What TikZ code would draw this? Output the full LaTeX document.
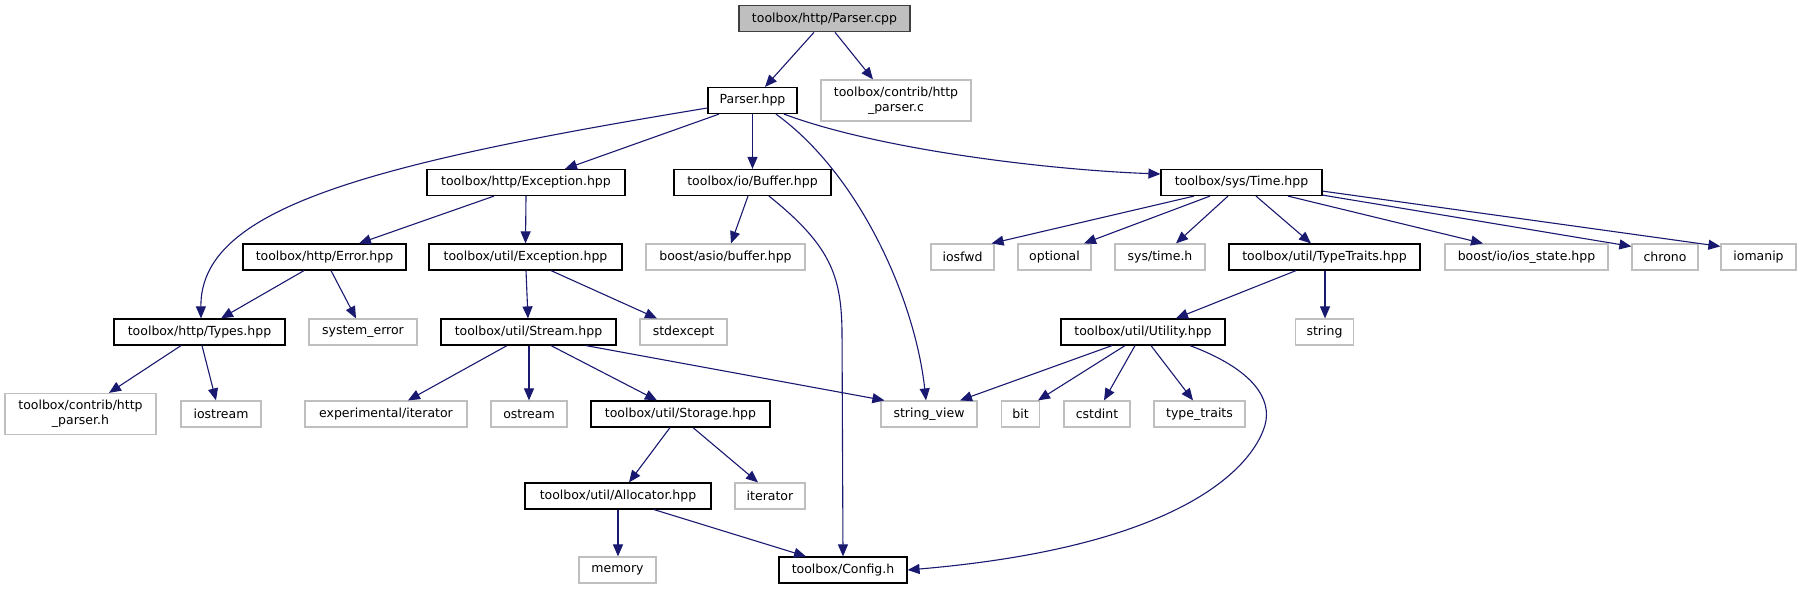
\documentclass[tikz,border=0pt]{standalone}
\usepackage{fontspec}
\setmainfont{DejaVu Sans}
\usetikzlibrary{arrows.meta}
\definecolor{mblue}{HTML}{191970}
\definecolor{gline}{HTML}{BFBFBF}
\definecolor{rootfill}{HTML}{BFBFBF}
\definecolor{rootline}{HTML}{404040}
\begin{document}
\begin{tikzpicture}[x=1pt,y=-1pt,
  box/.style={draw=black, line width=1.2pt, inner sep=0pt, minimum height=26pt, align=center, font=\fontsize{12.5}{15}\selectfont},
  ext/.style={box, draw=gline},
  root/.style={box, draw=rootline, fill=rootfill},
  two/.style={minimum height=41pt},
  e/.style={draw=mblue, line width=1.1pt, -{Triangle[length=12pt,width=10pt]}, mblue}]
\useasboundingbox (0,0) rectangle (1811,589);
% row 1
\node[root, minimum width=171pt] (pcpp) at (824.5,18.7) {toolbox/http/Parser.cpp};
% row 2
\node[box, minimum width=89pt] (phpp) at (752.5,100.5) {Parser.hpp};
\node[ext, two, minimum width=150pt] (hpc) at (896,100.5) {toolbox/contrib/http\\\_parser.c};
% row 3
\node[box, minimum width=198pt] (hexc) at (526,182.5) {toolbox/http/Exception.hpp};
\node[box, minimum width=157pt] (iobuf) at (752.5,182.5) {toolbox/io/Buffer.hpp};
\node[box, minimum width=161pt] (time) at (1241.5,182.5) {toolbox/sys/Time.hpp};
% row 4
\node[box, minimum width=163pt] (herr) at (324.5,257) {toolbox/http/Error.hpp};
\node[box, minimum width=193pt] (uexc) at (525.5,257) {toolbox/util/Exception.hpp};
\node[ext, minimum width=159pt] (asio) at (725.5,257) {boost/asio/buffer.hpp};
\node[ext, minimum width=63pt] (iosfwd) at (962.5,257) {iosfwd};
\node[ext, minimum width=73pt] (optional) at (1054.5,257) {optional};
\node[ext, minimum width=90pt] (systime) at (1160,257) {sys/time.h};
\node[box, minimum width=191pt] (ttraits) at (1324.5,257) {toolbox/util/TypeTraits.hpp};
\node[ext, minimum width=163pt] (iosst) at (1526.5,257) {boost/io/ios\_state.hpp};
\node[ext, minimum width=66pt] (chrono) at (1665,257) {chrono};
\node[ext, minimum width=75pt] (iomanip) at (1758.5,257) {iomanip};
% row 5
\node[box, minimum width=171pt] (types) at (199.5,332) {toolbox/http/Types.hpp};
\node[ext, minimum width=108pt] (syserr) at (363,332) {system\_error};
\node[box, minimum width=175pt] (stream) at (528.5,332) {toolbox/util/Stream.hpp};
\node[ext, minimum width=87pt] (stdexc) at (683.5,332) {stdexcept};
\node[box, minimum width=164pt] (util) at (1143,332) {toolbox/util/Utility.hpp};
\node[ext, minimum width=58pt] (string) at (1324.5,332) {string};
% row 6
\node[ext, two, minimum width=151pt] (hph) at (80.5,414) {toolbox/contrib/http\\\_parser.h};
\node[ext, minimum width=80pt] (iostream) at (221,414) {iostream};
\node[ext, minimum width=162pt] (expit) at (386,414) {experimental/iterator};
\node[ext, minimum width=76pt] (ostream) at (529,414) {ostream};
\node[box, minimum width=179pt] (storage) at (680.5,414) {toolbox/util/Storage.hpp};
\node[ext, minimum width=96pt] (sview) at (929,414) {string\_view};
\node[ext, minimum width=38pt] (bit) at (1020.5,414) {bit};
\node[ext, minimum width=66pt] (cstdint) at (1097,414) {cstdint};
\node[ext, minimum width=91pt] (ttr) at (1199.5,414) {type\_traits};
% row 7
\node[box, minimum width=186pt] (alloc) at (618,496) {toolbox/util/Allocator.hpp};
\node[ext, minimum width=70pt] (iter) at (770,496) {iterator};
% row 8
\node[ext, minimum width=77pt] (memory) at (617.5,570) {memory};
\node[box, minimum width=128pt] (config) at (843,570) {toolbox/Config.h};
% edges
\draw[e] ([xshift=-10.5pt]pcpp.south) -- ([xshift=12.5pt]phpp.north);
\draw[e] ([xshift=10.5pt]pcpp.south) -- ([xshift=-23pt]hpc.north);
\draw[e] ([yshift=-7.5pt]phpp.west) .. controls (360,165) and (200,210) .. ([xshift=1.5pt]types.north);
\draw[e] ([xshift=-33.5pt]phpp.south) -- ([xshift=39pt]hexc.north);
\draw[e] (phpp.south) -- (iobuf.north);
\draw[e] ([xshift=23.5pt]phpp.south) .. controls (860,175) and (915,300) .. ([xshift=-3pt]sview.north);
\draw[e] ([xshift=31.5pt]phpp.south) .. controls (880,150) and (1050,170) .. ([yshift=8.5pt]time.west);
\draw[e] ([xshift=-32pt]hexc.south) -- ([xshift=34.5pt]herr.north);
\draw[e] (hexc.south) -- (uexc.north);
\draw[e] ([xshift=-4.5pt]iobuf.south) -- ([xshift=5.5pt]asio.north);
\draw[e] ([xshift=16.5pt]iobuf.south) .. controls (830,245) and (841,275) .. (842,330) -- (config.north);
\draw[e] ([xshift=-20.5pt]herr.south) -- ([xshift=21.5pt]types.north);
\draw[e] ([xshift=6.5pt]herr.south) -- ([xshift=-7pt]syserr.north);
\draw[e] ([xshift=0.5pt]uexc.south) -- ([xshift=-0.5pt]stream.north);
\draw[e] ([xshift=25.5pt]uexc.south) -- ([xshift=-26.5pt]stdexc.north);
\draw[e] ([xshift=-18.5pt]types.south) -- ([xshift=28.5pt]hph.north);
\draw[e] ([xshift=2.5pt]types.south) -- ([xshift=-5pt]iostream.north);
\draw[e] ([xshift=-21.5pt]stream.south) -- ([xshift=22pt]expit.north);
\draw[e] ([xshift=0.5pt]stream.south) -- (ostream.north);
\draw[e] ([xshift=22.5pt]stream.south) -- ([xshift=-23.5pt]storage.north);
\draw[e] ([xshift=57.5pt]stream.south) -- ([xshift=4pt]sview.north west);
\draw[e] ([xshift=-10.5pt]storage.south) -- ([xshift=11pt]alloc.north);
\draw[e] ([xshift=12.5pt]storage.south) -- ([xshift=-12pt]iter.north);
\draw[e] (alloc.south) -- ([xshift=0.5pt]memory.north);
\draw[e] ([xshift=36pt]alloc.south) -- ([xshift=-37pt]config.north);
\draw[e] ([xshift=-47.5pt]time.south) -- ([xshift=-3pt]iosfwd.north east);
\draw[e] ([xshift=-31.5pt]time.south) -- ([xshift=29.5pt]optional.north);
\draw[e] ([xshift=-13.5pt]time.south) -- ([xshift=16pt]systime.north);
\draw[e] ([xshift=14.5pt]time.south) -- ([xshift=-13.5pt]ttraits.north);
\draw[e] ([xshift=46.5pt]time.south) -- ([xshift=-43.5pt]iosst.north);
\draw[e] ([yshift=1pt]time.south east) -- ([yshift=-3pt]chrono.north west);
\draw[e] ([yshift=5pt]time.south east) -- ([yshift=-3pt]iomanip.north west);
\draw[e] ([xshift=-28.5pt]ttraits.south) -- ([xshift=33pt]util.north);
\draw[e] ([xshift=0.5pt]ttraits.south) -- ([xshift=0.5pt]string.north);
\draw[e] ([xshift=-31pt]util.south) -- ([xshift=31pt]sview.north);
\draw[e] ([xshift=-18pt]util.south) -- ([xshift=17.5pt]bit.north);
\draw[e] ([xshift=-8pt]util.south) -- ([xshift=7pt]cstdint.north);
\draw[e] ([xshift=8pt]util.south) -- ([xshift=-6.5pt]ttr.north);
\draw[e] ([xshift=47pt]util.south) .. controls (1255,370) and (1272,400) .. (1265,425) .. controls (1256,457) and (1200,545) .. (config.east);
\end{tikzpicture}
\end{document}
